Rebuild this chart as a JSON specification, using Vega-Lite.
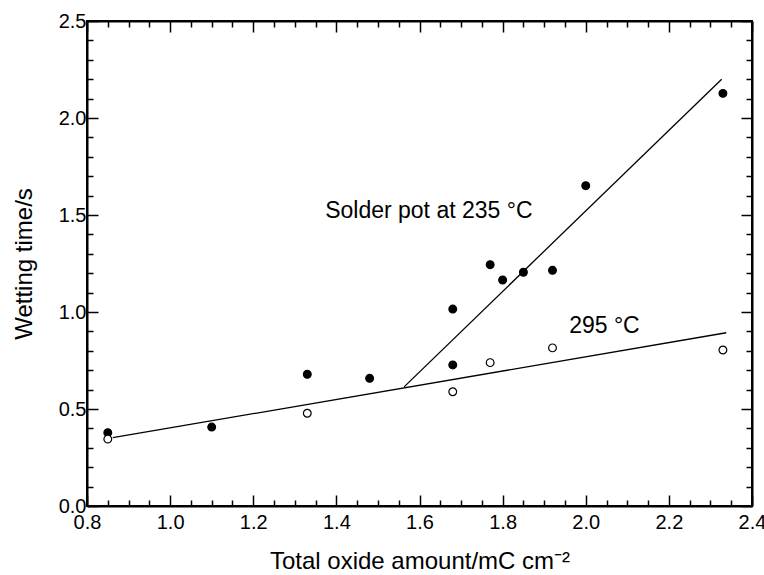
{
  "$schema": "https://vega.github.io/schema/vega-lite/v6.json",
  "width": 665,
  "height": 485,
  "autosize": {"type": "none"},
  "padding": {"left": 87, "top": 21, "right": 12, "bottom": 69},
  "background": "white",
  "config": {
    "view": {"stroke": "black", "strokeWidth": 2},
    "axis": {"grid": false, "domainColor": "black", "domainWidth": 2, "tickColor": "black", "tickWidth": 1.5, "labelColor": "black", "titleColor": "black", "labelFont": "Liberation Sans", "titleFont": "Liberation Sans", "labelFontSize": 20, "titleFontSize": 24, "titleFontWeight": "normal", "labelOverlap": false, "labelFlush": false}
  },
  "datasets": {
    "pts": [
      {"x": 0.85, "y": 0.378, "series": "235"},
      {"x": 1.10, "y": 0.407, "series": "235"},
      {"x": 1.33, "y": 0.679, "series": "235"},
      {"x": 1.48, "y": 0.658, "series": "235"},
      {"x": 1.68, "y": 1.015, "series": "235"},
      {"x": 1.68, "y": 0.727, "series": "235"},
      {"x": 1.77, "y": 1.244, "series": "235"},
      {"x": 1.80, "y": 1.165, "series": "235"},
      {"x": 1.85, "y": 1.205, "series": "235"},
      {"x": 1.92, "y": 1.215, "series": "235"},
      {"x": 2.00, "y": 1.651, "series": "235"},
      {"x": 2.33, "y": 2.127, "series": "235"},
      {"x": 0.85, "y": 0.345, "series": "295"},
      {"x": 1.33, "y": 0.478, "series": "295"},
      {"x": 1.68, "y": 0.589, "series": "295"},
      {"x": 1.77, "y": 0.739, "series": "295"},
      {"x": 1.92, "y": 0.815, "series": "295"},
      {"x": 2.33, "y": 0.804, "series": "295"}
    ],
    "lines": [
      {"x": 0.862, "y": 0.352, "line": "295"},
      {"x": 2.338, "y": 0.893, "line": "295"},
      {"x": 1.563, "y": 0.614, "line": "235"},
      {"x": 2.327, "y": 2.2, "line": "235"}
    ],
    "labels": [
      {"x": 1.373, "y": 1.486, "text": "Solder pot at 235 °C"},
      {"x": 1.960, "y": 0.890, "text": "295 °C"}
    ]
  },
  "layer": [
    {
      "data": {"name": "lines"},
      "mark": {"type": "line", "color": "black", "strokeWidth": 1.3},
      "encoding": {
        "x": {"field": "x", "type": "quantitative", "scale": {"domain": [0.8, 2.4], "nice": false, "zero": false},
          "axis": {"orient": "top", "title": null, "labels": false,
            "values": [0.8,0.85,0.9,0.95,1,1.05,1.1,1.15,1.2,1.25,1.3,1.35,1.4,1.45,1.5,1.55,1.6,1.65,1.7,1.75,1.8,1.85,1.9,1.95,2,2.05,2.1,2.15,2.2,2.25,2.3,2.35,2.4],
            "tickSize": {"condition": {"test": "round(datum.value*20)%4==0", "value": -11}, "value": -6}}},
        "y": {"field": "y", "type": "quantitative", "scale": {"domain": [0, 2.5], "nice": false},
          "axis": {"orient": "right", "title": null, "labels": false,
            "values": [0,0.1,0.2,0.3,0.4,0.5,0.6,0.7,0.8,0.9,1,1.1,1.2,1.3,1.4,1.5,1.6,1.7,1.8,1.9,2,2.1,2.2,2.3,2.4,2.5],
            "tickSize": {"condition": {"test": "round(datum.value*10)%5==0", "value": -11}, "value": -6}}},
        "detail": {"field": "line"}
      }
    },
    {
      "data": {"name": "pts"},
      "mark": {"type": "point", "shape": "circle", "filled": true, "stroke": "black", "strokeWidth": 1.2, "size": 60, "opacity": 1},
      "encoding": {
        "x": {"field": "x", "type": "quantitative",
          "axis": {"orient": "bottom", "title": "Total oxide amount/mC cm⁻²", "titlePadding": 12, "labelPadding": 17,
            "values": [0.8,0.85,0.9,0.95,1,1.05,1.1,1.15,1.2,1.25,1.3,1.35,1.4,1.45,1.5,1.55,1.6,1.65,1.7,1.75,1.8,1.85,1.9,1.95,2,2.05,2.1,2.15,2.2,2.25,2.3,2.35,2.4],
            "labelExpr": "round(datum.value*20)%4==0 ? format(datum.value,'.1f') : ''",
            "tickSize": {"condition": {"test": "round(datum.value*20)%4==0", "value": -11}, "value": -6}}},
        "y": {"field": "y", "type": "quantitative",
          "axis": {"orient": "left", "title": "Wetting time/s", "titlePadding": 22, "labelPadding": 12,
            "values": [0,0.1,0.2,0.3,0.4,0.5,0.6,0.7,0.8,0.9,1,1.1,1.2,1.3,1.4,1.5,1.6,1.7,1.8,1.9,2,2.1,2.2,2.3,2.4,2.5],
            "labelExpr": "round(datum.value*10)%5==0 ? format(datum.value,'.1f') : ''",
            "tickSize": {"condition": {"test": "round(datum.value*10)%5==0", "value": -11}, "value": -6}}},
        "fill": {"field": "series", "type": "nominal", "scale": {"domain": ["235", "295"], "range": ["black", "white"]}, "legend": null}
      }
    },
    {
      "data": {"name": "labels"},
      "mark": {"type": "text", "align": "left", "baseline": "alphabetic", "font": "Liberation Sans", "fontSize": 23, "color": "black"},
      "encoding": {
        "x": {"field": "x", "type": "quantitative", "axis": null},
        "y": {"field": "y", "type": "quantitative", "axis": null},
        "text": {"field": "text"}
      }
    }
  ],
  "resolve": {"axis": {"x": "independent", "y": "independent"}}
}
